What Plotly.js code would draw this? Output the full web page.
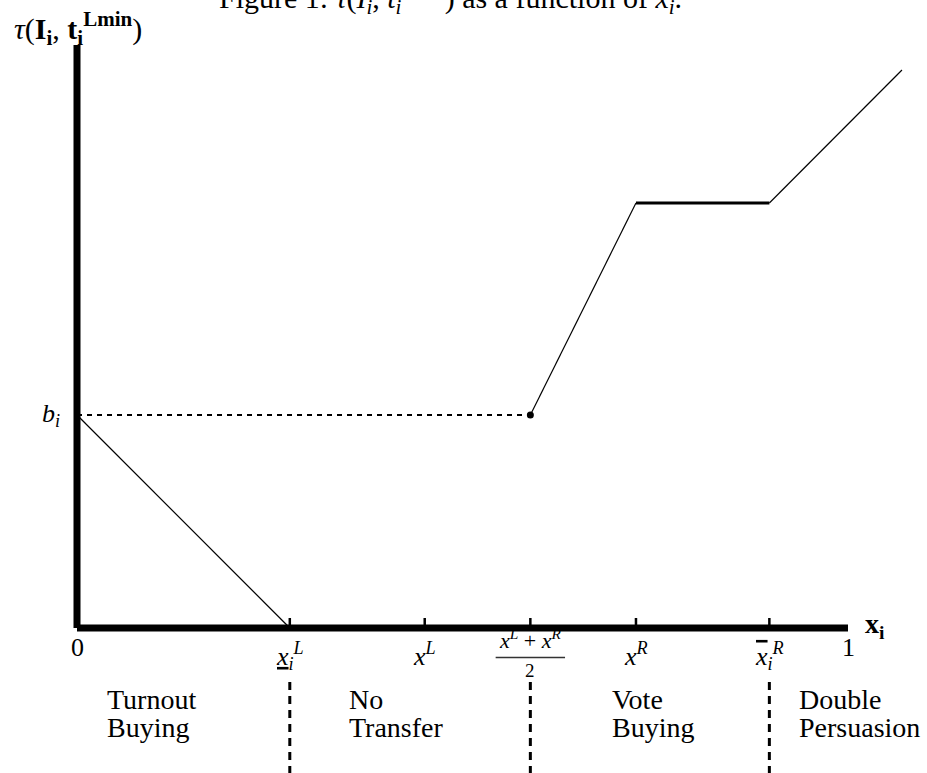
<!DOCTYPE html>
<html><head><meta charset="utf-8">
<script src="https://cdn.plot.ly/plotly-3.0.1.min.js"></script>
<style>html,body{margin:0;padding:0;background:#fff}</style>
</head><body>
<div id="chart" style="width:927px;height:773px"></div>
<script>
// ---- data (x_i in [0,1], tau in arbitrary units) ----
const tickNames  = ['x_i^L lower', 'x^L', '(x^L+x^R)/2', 'x^R', 'x_i^R upper'];
const tickValues = [0.276, 0.451, 0.588, 0.725, 0.898];
const tickLabels = [
  '<u><i>x</i></u><sub><i>i</i></sub><sup><i>L</i></sup>',
  '<i>x</i><sup><i>L</i></sup>',
  '<i>x</i><sup><i>L</i></sup> + <i>x</i><sup><i>R</i></sup>',
  '<i>x</i><sup><i>R</i></sup>',
  '<span style="text-decoration:overline"><i>x</i></span><sub><i>i</i></sub><sup><i>R</i></sup>'
];
const fractionDenominator = '2';
const endValues = [0, 1];
const endLabels = ['0', '1'];
const bValue = 2.13;
const bLabel = '<i>b</i><sub><i>i</i></sub>';

const turnoutX   = [0, 0.276];     const turnoutY   = [2.13, 0];
const thresholdX = [0, 0.588];     const thresholdY = [2.13, 2.13];
const voteX      = [0.588, 0.725]; const voteY      = [2.13, 4.25];
const plateauX   = [0.725, 0.898]; const plateauY   = [4.25, 4.25];
const persuadeX  = [0.898, 1.07];  const persuadeY  = [4.25, 5.58];

const axisXMax = 1.0;
const axisYMax = 5.83;

const regionLine1 = ['Turnout', 'No', 'Vote', 'Double'];
const regionLine2 = ['Buying', 'Transfer', 'Buying', 'Persuasion'];
const dividerValues = [0.276, 0.588, 0.898];

// ---- build ----
const F = 'Liberation Serif, Times New Roman, serif';
const black = '#000';
const traces = [];
function line(x, y, w, dash) {
  traces.push({x, y, type:'scatter', mode:'lines', hoverinfo:'skip',
    line:{color:black, width:w, dash:dash||'solid'}});
}
// axes
line([0, 0], [0, axisYMax], 7);
line([0, axisXMax], [0, 0], 7);
// tick marks
const tx = [], ty = [];
tickValues.forEach(v => { tx.push(v, v, null); ty.push(0, 0.10, null); });
line(tx, ty, 2.5);
// curves
line(turnoutX, turnoutY, 1.2);
line(thresholdX, thresholdY, 2, '5px,5px');
line(voteX, voteY, 1.2);
line(plateauX, plateauY, 3.2);
line(persuadeX, persuadeY, 1.2);
traces.push({x:[thresholdX[1]], y:[thresholdY[1]], type:'scatter', mode:'markers',
  hoverinfo:'skip', marker:{color:black, size:7}});
// dividers below axis
const dx = [], dy = [];
dividerValues.forEach(v => { dx.push(v, v, null); dy.push(-0.54, -1.5, null); });
line(dx, dy, 3, '8px,6px');

const ann = [];
function A(o, size) {
  ann.push(Object.assign({showarrow:false, xref:'x', yref:'y',
    font:{family:F, size:size||28, color:black}}, o));
}
const shapes = [];
tickValues.forEach((v, i) => {
  if (i === 2) {
    A({x:v, y:-0.27, xanchor:'center', yanchor:'bottom', text:tickLabels[i]}, 22);
    A({x:v, y:-0.30, xanchor:'center', yanchor:'top', text:fractionDenominator}, 19);
    shapes.push({type:'line', xref:'x', yref:'y', x0:v-0.045, x1:v+0.045, y0:-0.295, y1:-0.295,
      line:{color:'#333', width:1.3}});
  } else {
    A({x:v, y:-0.08, xanchor:'center', yanchor:'top', text:tickLabels[i]}, 26);
  }
});
endValues.forEach((v, i) => {
  A({x:v, y:-0.03, xanchor:'center', yanchor:'top', text:endLabels[i]}, 26);
});
A({x:-0.034, y:bValue, xanchor:'center', yanchor:'middle', text:bLabel}, 26);
const regionX = [0.0363, 0.350, 0.691, 0.934];
regionLine1.forEach((t, i) => {
  A({x:regionX[i], y:-0.54, xanchor:'left', yanchor:'top', text:t});
  A({x:regionX[i], y:-0.82, xanchor:'left', yanchor:'top', text:regionLine2[i]});
});
A({x:1.02, y:0.03, xanchor:'left', yanchor:'middle', text:'<b>x<sub>i</sub></b>'});
A({x:12/927, y:1-28/773, xref:'paper', yref:'paper', xanchor:'left', yanchor:'middle',
  text:'<i>τ</i>(<b>I<sub>i</sub></b>, <b>t<sub>i</sub><sup>Lmin</sup></b>)'}, 30);
A({x:217/927, y:1-21/773, xref:'paper', yref:'paper', xanchor:'left', yanchor:'bottom',
  text:'Figure 1: <i>τ</i>(<i>I<sub>i</sub></i>, <i>t<sub>i</sub><sup>Lmin</sup></i>) as a function of <i>x<sub>i</sub></i>.'}, 30);

const layout = {
  width:927, height:773, margin:{l:0, r:0, t:0, b:0},
  paper_bgcolor:'#fff', plot_bgcolor:'#fff', showlegend:false,
  xaxis:{range:[-77/771, 850/771], visible:false, fixedrange:true},
  yaxis:{range:[-1.45, 6.28], visible:false, fixedrange:true},
  annotations:ann, shapes:shapes
};
Plotly.newPlot('chart', traces, layout, {staticPlot:true});
</script>
</body></html>
